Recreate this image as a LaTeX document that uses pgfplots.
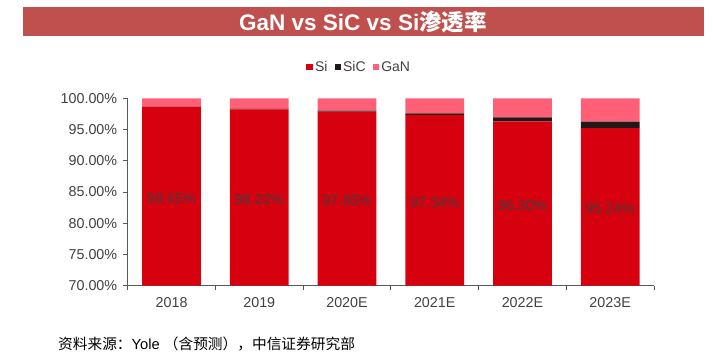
\documentclass[border=0pt]{standalone}
\usepackage{pgfplots}
\usepackage{pgfplotstable}
\pgfplotsset{compat=1.18}
\usepackage{fontspec}
\setmainfont{Liberation Sans}
\newfontfamily\cjk{Noto Sans CJK SC}
\definecolor{sired}{RGB}{215,0,15}
\definecolor{sicblk}{RGB}{35,24,21}
\definecolor{ganpink}{RGB}{255,96,120}
\definecolor{banner}{RGB}{192,80,77}
\definecolor{txtgray}{RGB}{64,64,64}
\definecolor{lblgray}{RGB}{70,60,60}
\definecolor{axgray}{RGB}{89,89,89}
\pgfplotstableread{
idx si sic gan
0 98.65 0.02 1.33
1 98.22 0.10 1.68
2 97.85 0.17 1.98
3 97.34 0.26 2.40
4 96.30 0.66 3.04
5 95.24 1.02 3.74
}\pentable
\begin{document}
\begin{tikzpicture}[x=1pt,y=1pt]
\path[use as bounding box] (0,0) rectangle (713,363);
% title banner
\fill[banner] (23,327) rectangle (704,356);
\node[text=white, font=\fontsize{22.5}{26}\selectfont\bfseries, inner sep=0pt] at (363,341.5) {GaN vs SiC vs Si{\cjk\bfseries 渗透率}};
% source
\node[anchor=west, inner sep=0pt, font=\fontsize{14.7}{17}\selectfont, text=black] at (58,19) {{\cjk 资料来源：}Yole {\cjk （含预测），中信证券研究部}};
\begin{axis}[
  at={(127.7pt,77.3pt)}, anchor=south west,
  scale only axis, width=526.3pt, height=187.4pt,
  ybar stacked, bar width=0.67,
  xmin=-0.5, xmax=5.5, ymin=70, ymax=100,
  axis lines*=left,
  axis line style={axgray, line width=0.9pt},
  xtick={0,...,5},
  xticklabels={2018,2019,2020E,2021E,2022E,2023E},
  major x tick style={draw=none},
  minor xtick={-0.5,0.5,...,5.5},
  minor tick length=4.5pt,
  minor x tick style={axgray, line width=0.9pt},
  ytick={70,75,...,100},
  major tick length=5pt,
  y tick style={axgray, line width=0.9pt},
  tick align=outside,
  yticklabel={\pgfmathprintnumber[fixed,fixed zerofill,precision=2]{\tick}\%},
  /pgf/number format/assume math mode=true,
  ticklabel style={font=\fontsize{14.3}{17}\selectfont, text=txtgray},
  xticklabel style={yshift=-3pt},
  yticklabel style={xshift=-2pt},
  legend columns=-1,
  legend style={at={(0.44,1.167)}, anchor=center, draw=none, fill=none,
    font=\fontsize{14}{16}\selectfont, text=txtgray,
    /tikz/every even column/.append style={column sep=5pt},
    inner sep=0pt},
  legend image code/.code={\fill[#1] (0pt,-3.3pt) rectangle (6.6pt,3.3pt);},
  clip=true,
]
\addplot[fill=sired, draw=none] table[x=idx, y=si] {\pentable};
\addplot[fill=sicblk, draw=none] table[x=idx, y=sic] {\pentable};
\addplot[fill=ganpink, draw=none] table[x=idx, y=gan] {\pentable};
\legend{Si,SiC,GaN}
\end{axis}
\begin{axis}[
  at={(127.7pt,77.3pt)}, anchor=south west,
  scale only axis, width=526.3pt, height=187.4pt,
  xmin=-0.5, xmax=5.5, ymin=70, ymax=100,
  hide axis, clip=false,
  /pgf/number format/assume math mode=true,
]
\addplot[draw=none, mark=none, nodes near coords,
  point meta={\thisrow{si}},
  nodes near coords={\pgfmathprintnumber[fixed,fixed zerofill,precision=2,assume math mode=true]{\pgfplotspointmeta}\%},
  every node near coord/.style={anchor=center, yshift=-2pt, text=lblgray, font=\fontsize{14.5}{17}\selectfont}]
  table[x=idx, y expr={(70+\thisrow{si})/2}] {\pentable};
\end{axis}
\end{tikzpicture}
\end{document}
